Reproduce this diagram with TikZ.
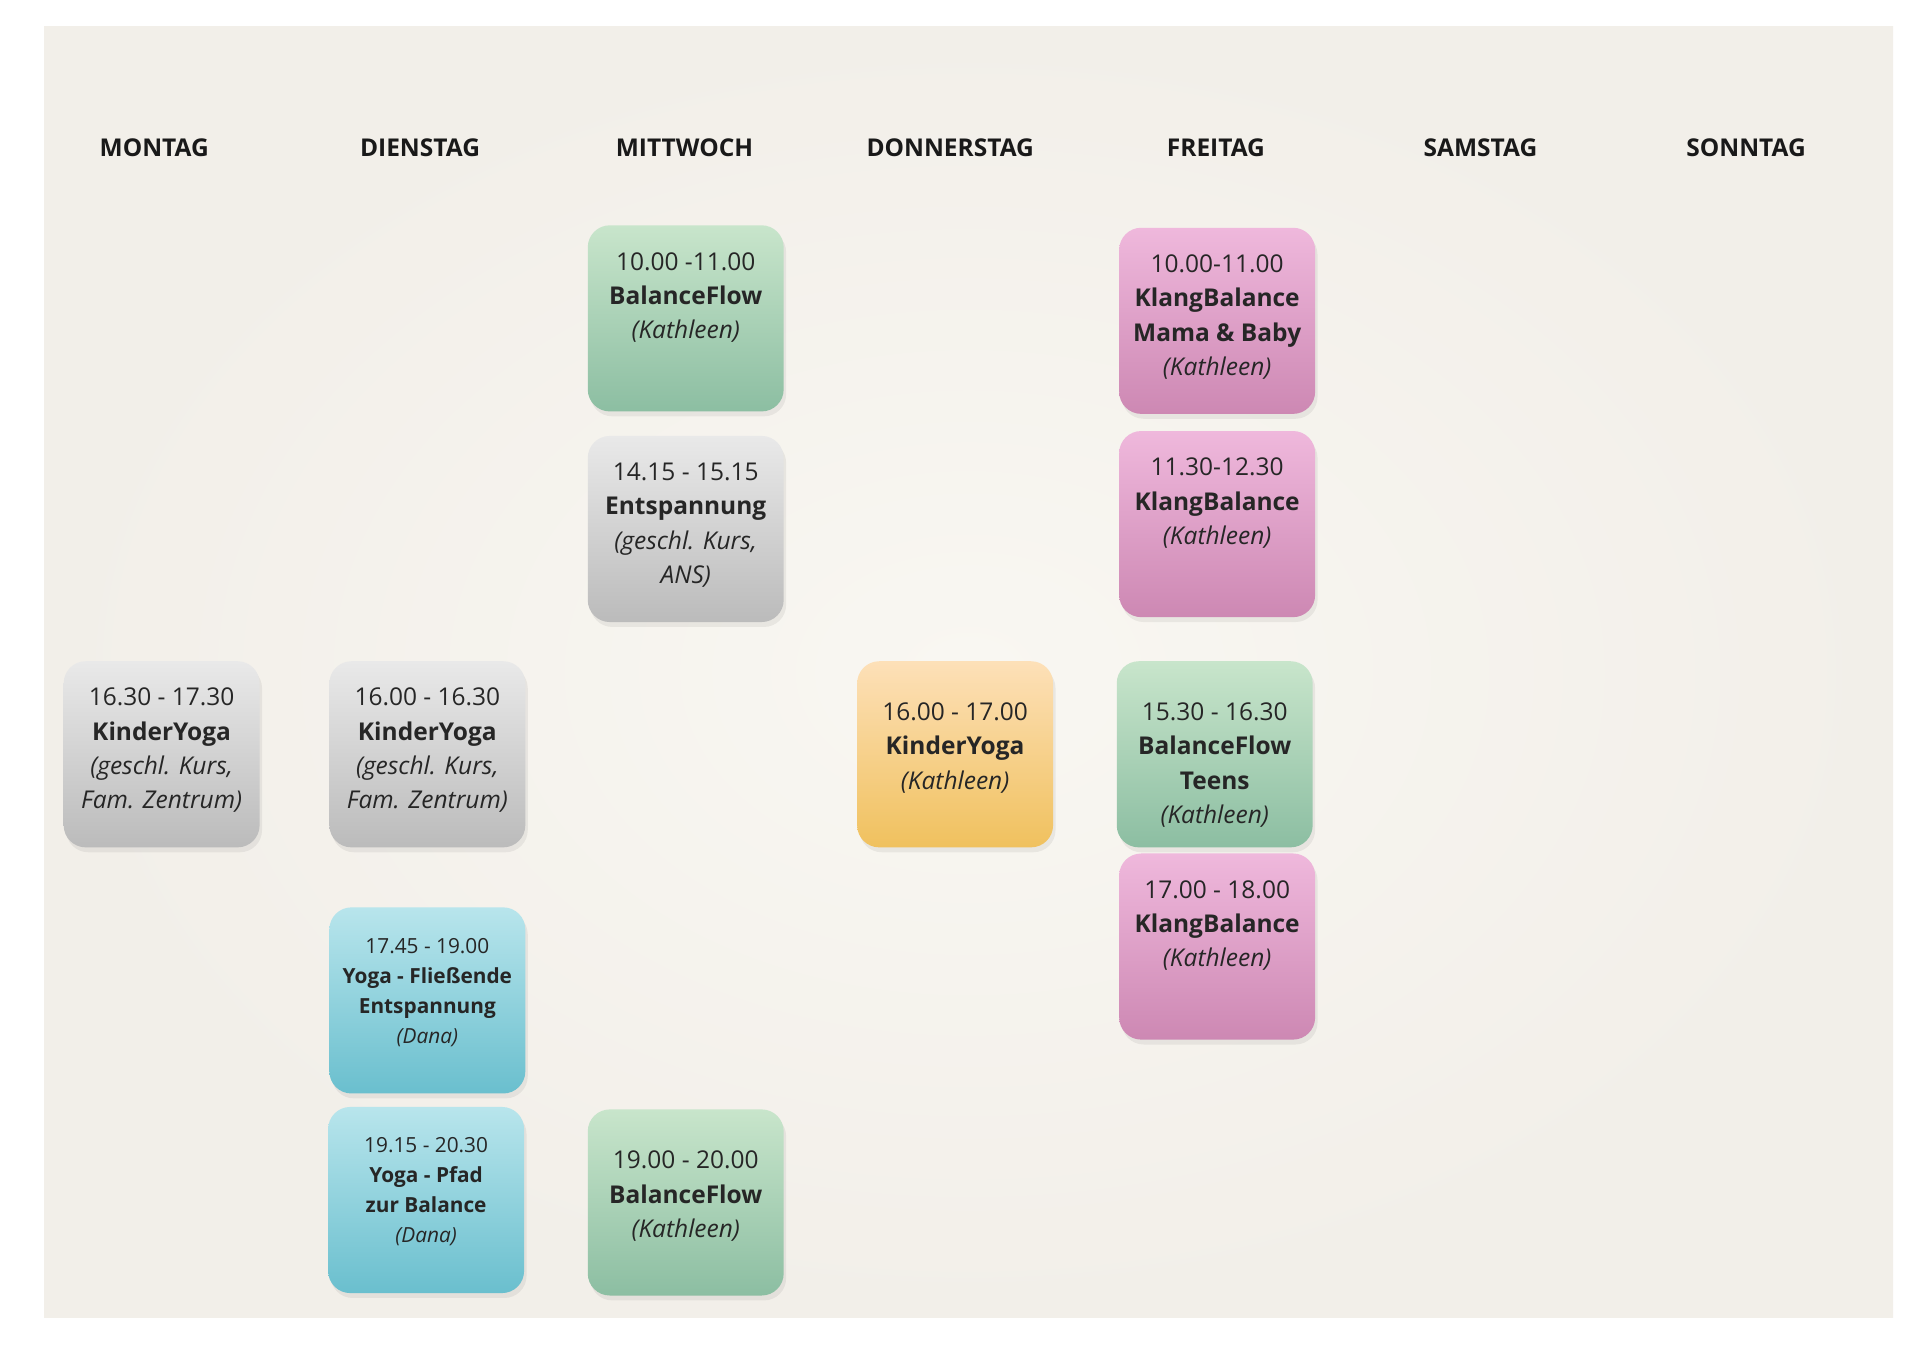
\documentclass[tikz,border=0pt]{standalone}
\usepackage{fontspec}
\setmainfont{Open Sans}
\begin{document}
\begin{tikzpicture}[x=1pt,y=-1pt,
  box/.style={rounded corners=18pt,minimum width=160pt,minimum height=152pt,inner sep=0pt,draw=none},
  grn/.style={box,top color=green1,bottom color=green2},
  gry/.style={box,top color=grey1,bottom color=grey2},
  pnk/.style={box,top color=pink1,bottom color=pink2},
  org/.style={box,top color=orange1,bottom color=orange2},
  blu/.style={box,top color=blue1,bottom color=blue2},
  txt/.style={anchor=north,align=center,inner sep=0pt,font=\fontsize{20}{28}\selectfont,text=black!85},
  stxt/.style={anchor=north,align=center,inner sep=0pt,font=\fontsize{17}{24.5}\selectfont,text=black!85},
  head/.style={font=\fontsize{20}{24}\selectfont\bfseries,text=black!90}]
\definecolor{green1}{HTML}{C8E5CB}\definecolor{green2}{HTML}{8CBEA2}
\definecolor{grey1}{HTML}{E9E9E9}\definecolor{grey2}{HTML}{BBBBBB}
\definecolor{pink1}{HTML}{EFB8DC}\definecolor{pink2}{HTML}{CD88B3}
\definecolor{orange1}{HTML}{FDE0B8}\definecolor{orange2}{HTML}{F0C15E}
\definecolor{blue1}{HTML}{B8E5EC}\definecolor{blue2}{HTML}{6ABFCE}
\definecolor{bg1}{HTML}{F9F7F2}\definecolor{bg2}{HTML}{F2EFE9}
\useasboundingbox (0,0) rectangle (1568,1108);
\fill[white] (0,0) rectangle (1568,1108);
\shade[inner color=bg1,outer color=bg2] (36,22) rectangle (1546,1076);
\foreach \n/\x in {MONTAG/126,DIENSTAG/343,MITTWOCH/559,DONNERSTAG/776,FREITAG/993,SAMSTAG/1209,SONNTAG/1426}
  \node[head] (h\n) at (\x,121) {\n};
\def\bx#1#2#3#4{\fill[black,opacity=0.06,rounded corners=18pt] (#2-78,#3-72) rectangle (#2+82,#3+80);
  \node[#1] (#4) at (#2,#3) {};}
\bx{grn}{560}{260}{w1}
\node[txt] (tw1) at ([yshift=-22]w1.north) {10.00 -11.00\\\textbf{BalanceFlow}\\\textit{(Kathleen)}};
\bx{gry}{560}{432}{w2}
\node[txt] (tw2) at ([yshift=-22]w2.north) {14.15 - 15.15\\\textbf{Entspannung}\\\textit{(geschl. Kurs,}\\\textit{ANS)}};
\bx{grn}{560}{982}{w3}
\node[txt] (tw3) at ([yshift=-34]w3.north) {19.00 - 20.00\\\textbf{BalanceFlow}\\\textit{(Kathleen)}};
\bx{pnk}{994}{262}{f1}
\node[txt] (tf1) at ([yshift=-22]f1.north) {10.00-11.00\\\textbf{KlangBalance}\\\textbf{Mama \& Baby}\\\textit{(Kathleen)}};
\bx{pnk}{994}{428}{f2}
\node[txt] (tf2) at ([yshift=-22]f2.north) {11.30-12.30\\\textbf{KlangBalance}\\\textit{(Kathleen)}};
\bx{grn}{992}{616}{f3}
\node[txt] (tf3) at ([yshift=-34]f3.north) {15.30 - 16.30\\\textbf{BalanceFlow}\\\textbf{Teens}\\\textit{(Kathleen)}};
\bx{pnk}{994}{773}{f4}
\node[txt] (tf4) at ([yshift=-22]f4.north) {17.00 - 18.00\\\textbf{KlangBalance}\\\textit{(Kathleen)}};
\bx{gry}{132}{616}{m1}
\node[txt] (tm1) at ([yshift=-22]m1.north) {16.30 - 17.30\\\textbf{KinderYoga}\\\textit{(geschl. Kurs,}\\\textit{Fam. Zentrum)}};
\bx{gry}{349}{616}{d1}
\node[txt] (td1) at ([yshift=-22]d1.north) {16.00 - 16.30\\\textbf{KinderYoga}\\\textit{(geschl. Kurs,}\\\textit{Fam. Zentrum)}};
\bx{org}{780}{616}{o1}
\node[txt] (to1) at ([yshift=-34]o1.north) {16.00 - 17.00\\\textbf{KinderYoga}\\\textit{(Kathleen)}};
\bx{blu}{349}{817}{d2}
\node[stxt] (td2) at ([yshift=-25]d2.north) {17.45 - 19.00\\\textbf{Yoga - Fließende}\\\textbf{Entspannung}\\\textit{(Dana)}};
\bx{blu}{348}{980}{d3}
\node[stxt] (td3) at ([yshift=-25]d3.north) {19.15 - 20.30\\\textbf{Yoga - Pfad}\\\textbf{zur Balance}\\\textit{(Dana)}};
\end{tikzpicture}
\end{document}
